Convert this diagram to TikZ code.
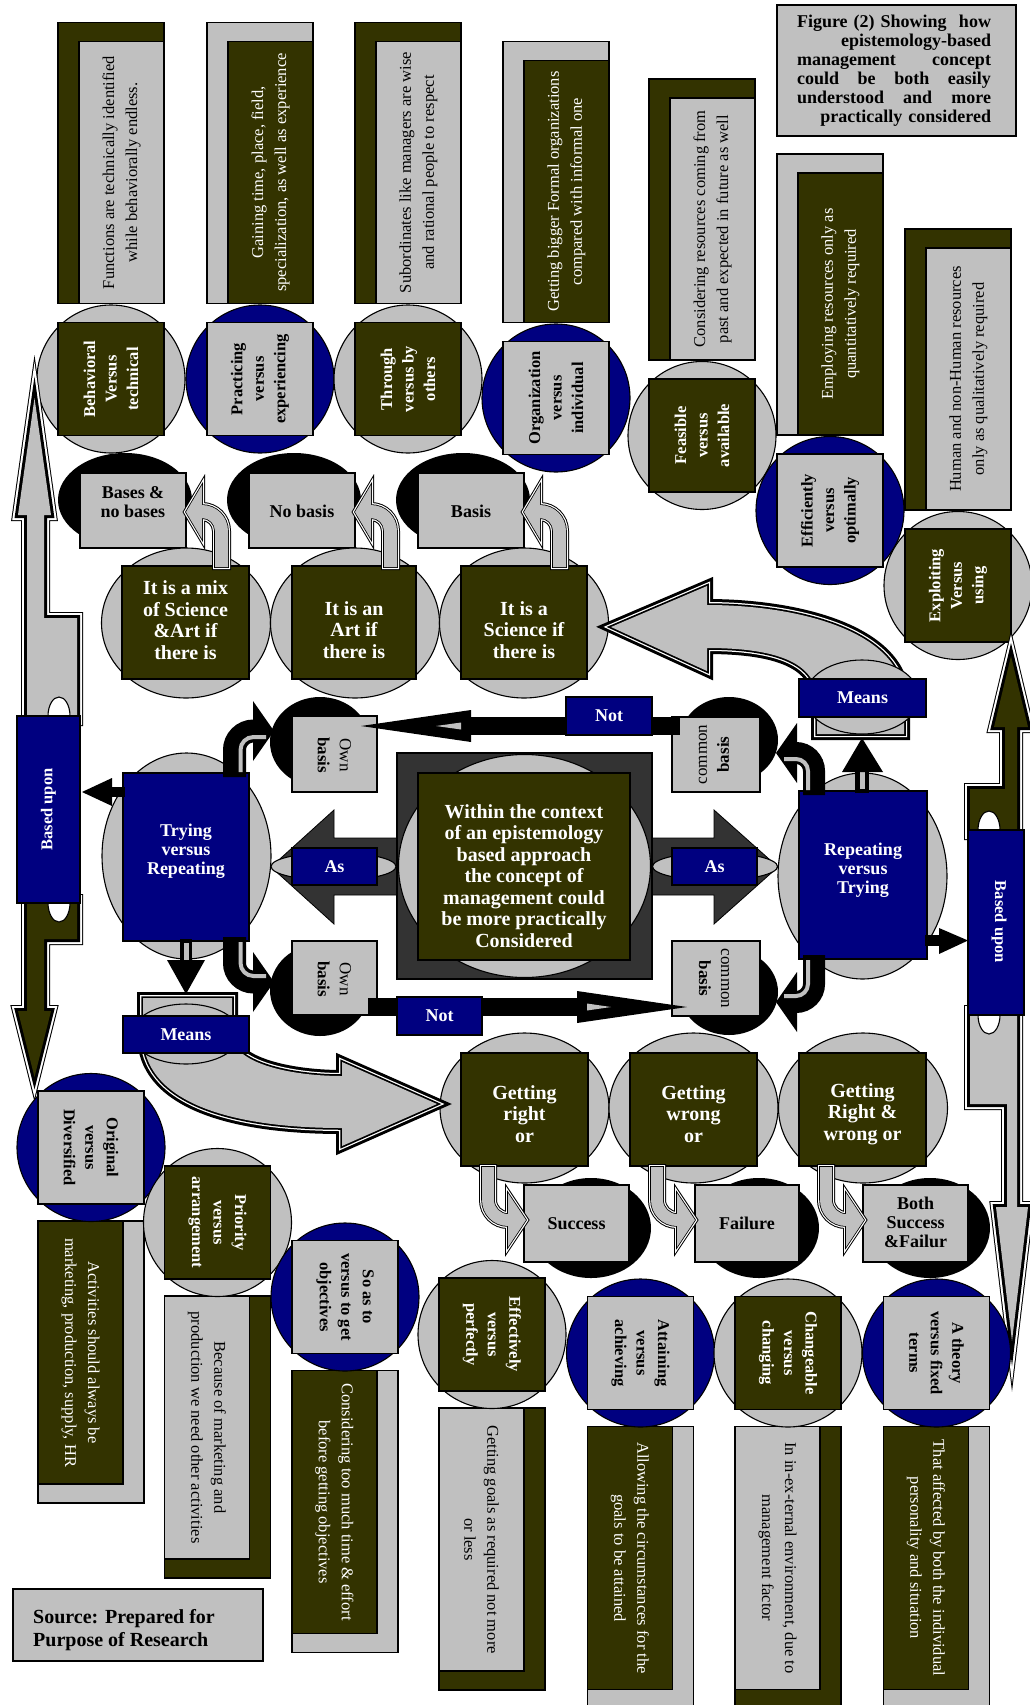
\documentclass[tikz,border=0pt]{standalone}
\usepackage{fontspec}
\setmainfont{Liberation Serif}
\usetikzlibrary{shapes.geometric}
\definecolor{olv}{HTML}{333300}
\definecolor{nvy}{HTML}{000080}
\definecolor{lgr}{HTML}{C0C0C0}
\definecolor{dgr}{HTML}{333333}
\newcommand\fsq{\fontsize{16.5}{21.5}\selectfont\bfseries}
\newcommand\fdesc{\fontsize{16.5}{23}\selectfont}
\newcommand\fbig{\fontsize{20}{21.5}\selectfont\bfseries}
\newcommand\flab{\fontsize{18}{19}\selectfont\bfseries}
\newcommand\ftitle{\fontsize{18}{19}\selectfont\bfseries}
\newcommand\fsrc{\fontsize{20}{23}\selectfont\bfseries}
\newcommand\fbas{\fontsize{17}{22}\selectfont}
\newcommand\fbu{\fontsize{16.5}{20}\selectfont\bfseries}
\tikzset{
  bx/.style={draw=black, line width=1.1pt, inner sep=0pt, align=center},
  dk/.style={bx, fill=olv, text=white},
  lt/.style={bx, fill=lgr, text=black},
  nv/.style={bx, fill=nvy, text=white},
  circ/.style={circle, draw=black, line width=1.1pt, inner sep=0pt, minimum size=148pt},
  ell/.style={ellipse, draw=black, line width=1.1pt, inner sep=0pt},
  blk/.style={ellipse, fill=black, inner sep=0pt},
  txt/.style={inner sep=0pt, align=center},
  bigtri/.style={line join=round, preaction={draw=black,line width=12pt}, preaction={draw=white,line width=10pt}, preaction={draw=black,line width=6pt}},
  curtri/.style={line join=round, preaction={draw=black,line width=12pt}, preaction={draw=white,line width=6pt}, preaction={draw=black,line width=3.5pt}},
  smtri/.style={line join=round, preaction={draw=black,line width=6pt}, preaction={draw=white,line width=4pt}, preaction={draw=black,line width=1.6pt}},
  band/.style={line width=23pt, black},
  stripe/.style={line width=4pt, lgr},
}
\newcommand\upitem[9]{%
 \node[#7, minimum width=106pt, minimum height=281pt] (#1b) at (#2,#3-216) {};
 \node[#8, rotate=90, minimum width=262pt, minimum height=85pt, font=\fdesc] (#1f) at (#2+10.5,#3-206.5) {#9};
 \node[circ, fill=#4] (#1c) at (#2,#3) {};
 \node[#5, rotate=90, minimum width=113pt, minimum height=106pt, font=\fsq] (#1s) at (#2,#3) {#6};
}
\newcommand\dnitem[9]{%
 \node[#7, minimum width=106pt, minimum height=282pt] (#1b) at (#2,#3+214.5) {};
 \node[#8, rotate=-90, minimum width=263pt, minimum height=85pt, font=\fdesc] (#1f) at (#2-10.5,#3+205) {#9};
 \node[circ, fill=#4] (#1c) at (#2,#3) {};
 \node[#5, rotate=-90, minimum width=113pt, minimum height=106pt, font=\fsq] (#1s) at (#2,#3) {#6};
}
\begin{document}
\begin{tikzpicture}[x=1pt,y=-1pt]
\fill[white] (0,0) rectangle (1029,1705);
\useasboundingbox (0,0) rectangle (1029,1705);

% ---------- upper row ----------
\upitem{ua}{111}{379}{lgr}{dk}{Behavioral\\Versus\\technical}{dk}{lt}{Functions are technically identified\\while behaviorally endless.}
\upitem{ub}{260}{379}{nvy}{lt}{Practicing\\versus\\experiencing}{lt}{dk}{Gaining time, place, field,\\specialization, as well as experience}
\upitem{uc}{408}{379}{lgr}{dk}{Through\\versus by\\others}{dk}{lt}{Subordinates like managers are wise\\and rational people to respect}
\upitem{ud}{556}{398}{nvy}{lt}{Organization\\versus\\individual}{lt}{dk}{Getting bigger Formal organizations\\compared with informal one}
\upitem{ue}{702}{435.5}{lgr}{dk}{Feasible\\versus\\available}{dk}{lt}{Considering resources coming from\\past and expected in future as well}
\upitem{uf}{830}{510.5}{nvy}{lt}{Efficiently\\versus\\optimally}{lt}{dk}{Employing resources only as\\quantitatively required}
\upitem{ug}{958}{585.5}{lgr}{dk}{Exploiting\\Versus\\using}{dk}{lt}{Human and non-Human resources\\only as qualitatively required}

% title
\node[lt, minimum width=239pt, minimum height=131pt] (title) at (896.5,70.5) {};
\node[txt, font=\ftitle, text width=194pt, align=right] (titt) at (894,71) {\makebox[194pt]{Figure (2) Showing\hfill how}\\epistemology-based\\\makebox[194pt]{management\hfill concept}\\\makebox[194pt]{could\hfill be\hfill both\hfill easily}\\\makebox[194pt]{understood\hfill and\hfill more}\\practically considered};

% ---------- bases row ----------
\node[blk, minimum width=134pt, minimum height=94pt] (ka) at (125,500) {};
\node[lt, minimum width=106pt, minimum height=75pt] (baa) at (133,510.5) {};
\node[txt, font=\flab] (baat) at (133,502) {Bases \&\\no bases};
\node[blk, minimum width=134pt, minimum height=94pt] (kb) at (294,500) {};
\node[lt, minimum width=106pt, minimum height=75pt] (bab) at (302,510.5) {};
\node[txt, font=\flab] (babt) at (302,511) {No basis};
\node[blk, minimum width=134pt, minimum height=94pt] (kc) at (463,500) {};
\node[lt, minimum width=106pt, minimum height=75pt] (bac) at (471,510.5) {};
\node[txt, font=\flab] (bact) at (471,511) {Basis};

% ---------- it-is row ----------
\node[ell, fill=lgr, minimum width=169pt, minimum height=150pt] (iea) at (186,623) {};
\node[dk, minimum width=127pt, minimum height=113pt] (isa) at (185.5,622.5) {};
\node[txt, font=\fbig, text=white] (isat) at (185.5,620) {It is a mix\\of Science\\\&Art if\\there is};
\node[ell, fill=lgr, minimum width=169pt, minimum height=150pt] (ieb) at (355,623) {};
\node[dk, minimum width=124pt, minimum height=113pt] (isb) at (354,622.5) {};
\node[txt, font=\fbig, text=white] (isbt) at (354,630) {It is an\\Art if\\there is};
\node[ell, fill=lgr, minimum width=169pt, minimum height=150pt] (iec) at (524,623) {};
\node[dk, minimum width=126pt, minimum height=113pt] (isc) at (524,622.5) {};
\node[txt, font=\fbig, text=white] (isct) at (524,630) {It is a\\Science if\\there is};

\foreach \s in {0,169,338}{
 \path[smtri, fill=lgr, shift={(\s,0)}] (215,567) -- (215,531) .. controls (215,523.8) and (209.2,518) .. (202,518) -- (202,539) -- (186,512) -- (202,485) -- (202,505) .. controls (216.4,505) and (228,516.6) .. (228,531) -- (228,567) -- cycle;
}

% ---------- based upon arrows ----------
\path[bigtri, fill=lgr] (34.5,398) -- (51,515) -- (44,515) -- (44,618) -- (77,618) -- (77,720) -- (27,720) -- (27,515) -- (18,515) -- cycle;
\path[bigtri, fill=olv] (27,900) -- (77,900) -- (77,939) -- (44,939) -- (44,1011) -- (51,1011) -- (34.5,1077) -- (18,1011) -- (27,1011) -- cycle;
\path[bigtri, fill=olv] (1011,656) -- (1028,727) -- (1017,727) -- (1017,834) -- (970,834) -- (970,789) -- (1005,789) -- (1005,727) -- (994,727) -- cycle;
\path[bigtri, fill=lgr] (970,1011) -- (1017,1011) -- (1017,1207) -- (1028,1207) -- (1012,1341) -- (996,1207) -- (1007,1207) -- (1007,1104) -- (970,1104) -- cycle;
\node[ell, fill=white, minimum width=22pt, minimum height=38pt] (nta) at (59,716) {};
\node[ell, fill=white, minimum width=22pt, minimum height=38pt] (ntb) at (59,903) {};
\node[ell, fill=white, minimum width=22pt, minimum height=38pt] (ntc) at (989,830) {};
\node[ell, fill=white, minimum width=22pt, minimum height=38pt] (ntd) at (989,1015) {};
\node[nv, minimum width=63pt, minimum height=187pt] (bul) at (48.5,809.5) {};
\node[txt, font=\fbu, text=white, rotate=90] (bult) at (48.5,809.5) {Based upon};
\node[nv, minimum width=56pt, minimum height=185pt] (bur) at (996,922.5) {};
\node[txt, font=\fbu, text=white, rotate=-90] (burt) at (999,922) {Based upon};

% ---------- centre ----------
\filldraw[fill=dgr, draw=black, line width=0.8pt] (400,838) -- (334,838) -- (334,810) -- (271,867) -- (334,924) -- (334,895) -- (400,895) -- cycle;
\filldraw[fill=dgr, draw=black, line width=0.8pt] (650,838) -- (714,838) -- (714,810) -- (778,867) -- (714,924) -- (714,895) -- (650,895) -- cycle;
\node[bx, fill=dgr, minimum width=255pt, minimum height=226pt] (cbg) at (524.5,866) {};
\node[ell, fill=lgr, minimum width=252pt, minimum height=223pt] (cel) at (524.5,866) {};
\node[dk, minimum width=212pt, minimum height=187pt] (csq) at (524,866.5) {};
\node[txt, font=\fbig, text=white] (ctx) at (524,876) {Within the context\\of an epistemology\\based approach\\the concept of\\management could\\be more practically\\Considered};
\node[ell, fill=lgr, minimum width=125pt, minimum height=28pt] (lensa) at (333.5,866.5) {};
\node[nv, minimum width=85pt, minimum height=37pt, font=\flab] (asa) at (334.5,866.5) {As};
\node[ell, fill=lgr, minimum width=125pt, minimum height=28pt] (lensb) at (715,866.5) {};
\node[nv, minimum width=85pt, minimum height=37pt, font=\flab] (asb) at (714.5,866.5) {As};

% own / common basis
\node[blk, minimum width=100pt, minimum height=90pt] (oka) at (320,742) {};
\node[lt, minimum width=85pt, minimum height=76pt] (oba) at (334.5,754) {};
\node[txt, font=\fbas, rotate=-90] (obat) at (334.5,755) {Own\\\textbf{basis}};
\node[blk, minimum width=100pt, minimum height=92pt] (okb) at (320,990) {};
\node[lt, minimum width=85pt, minimum height=74pt] (obb) at (334.5,978) {};
\node[txt, font=\fbas, rotate=-90] (obbt) at (334.5,979) {Own\\\textbf{basis}};
\node[blk, minimum width=98pt, minimum height=86pt] (cka) at (729,740) {};
\node[lt, minimum width=88pt, minimum height=75pt] (cba) at (716,754.5) {};
\node[txt, font=\fbas, rotate=90] (cbat) at (714,754.5) {common\\\textbf{basis}};
\node[blk, minimum width=98pt, minimum height=86pt] (ckb) at (729,992) {};
\node[lt, minimum width=88pt, minimum height=75pt] (cbb) at (716,978.5) {};
\node[txt, font=\fbas, rotate=-90] (cbbt) at (714,978.5) {common\\\textbf{basis}};

% Not arrows
\fill (471,717) rectangle (680,735);
\fill (471,710) -- (361,726) -- (471,742) -- cycle;
\fill[lgr] (461,722.5) -- (436,726) -- (461,729.5) -- cycle;
\node[nv, minimum width=86pt, minimum height=38pt, font=\flab] (nta1) at (609,716) {Not};
\fill (368,998) rectangle (577,1016);
\fill (577,991) -- (687,1007) -- (577,1023) -- cycle;
\fill[lgr] (587,1003.5) -- (611,1007) -- (587,1010.5) -- cycle;
\node[nv, minimum width=85pt, minimum height=38pt, font=\flab] (nta2) at (439.5,1016) {Not};

% Trying / Repeating
\node[ell, fill=lgr, minimum width=169pt, minimum height=206pt] (tre) at (186.5,856) {};
\node[nv, minimum width=126pt, minimum height=168pt] (trr) at (186,857) {};
\node[txt, font=\flab, text=white] (trt) at (186,851) {Trying\\versus\\Repeating};
\node[ell, fill=lgr, minimum width=169pt, minimum height=206pt] (rpe) at (862.5,876) {};
\node[nv, minimum width=128pt, minimum height=168pt] (rpr) at (863,875) {};
\node[txt, font=\flab, text=white] (rpt) at (863,870) {Repeating\\versus\\Trying};

% black U arrows
\draw[band] (234.5,777) -- (234.5,750) .. controls (234.5,739.5) and (243,731) .. (253.5,731) -- (258,731);
\fill (253,701) -- (274,731) -- (253,761) -- cycle;
\draw[stripe] (240.5,772) -- (240.5,750) .. controls (240.5,742.8) and (246.3,737) .. (253.5,737) -- (266,737);
\draw[band] (234.5,937) -- (234.5,963) .. controls (234.5,973.5) and (243,982) .. (253.5,982) -- (258,982);
\fill (253,952) -- (274,982) -- (253,1012) -- cycle;
\draw[stripe] (240.5,942) -- (240.5,963) .. controls (240.5,970.2) and (246.3,976) .. (253.5,976) -- (266,976);
\draw[band, line width=22pt] (814,795) -- (814,771) .. controls (814,761.1) and (805.9,753) .. (796,753) -- (792,753);
\fill (797,723) -- (776,753) -- (797,783) -- cycle;
\draw[stripe] (808,790) -- (808,771) .. controls (808,764.4) and (802.6,759) .. (796,759) -- (784,759);
\draw[band, line width=22pt] (814,955) -- (814,984) .. controls (814,993.9) and (805.9,1002) .. (796,1002) -- (792,1002);
\fill (797,972) -- (776,1002) -- (797,1032) -- cycle;
\draw[stripe] (808,960) -- (808,984) .. controls (808,990.6) and (802.6,996) .. (796,996) -- (784,996);

% small arrows to Based upon
\fill (110,787) rectangle (125,797);
\fill (112,778) -- (82,792) -- (112,806) -- cycle;
\fill (925,935) rectangle (941,946);
\fill (939,928) -- (968,940.5) -- (939,954) -- cycle;

% ---------- getting row ----------
\node[blk, minimum width=120pt, minimum height=100pt] (kga) at (591,1228) {};
\node[lt, minimum width=105pt, minimum height=77pt] (sca) at (576.5,1223.5) {};
\node[txt, font=\flab] (scat) at (576.5,1224) {Success};
\node[blk, minimum width=120pt, minimum height=100pt] (kgb) at (759,1228) {};
\node[lt, minimum width=104pt, minimum height=77pt] (scb) at (747,1223.5) {};
\node[txt, font=\flab] (scbt) at (747,1223) {Failure};
\node[blk, minimum width=120pt, minimum height=100pt] (kgc) at (930,1228) {};
\node[lt, minimum width=105pt, minimum height=77pt] (scc) at (915.5,1223.5) {};
\node[txt, font=\flab] (scct) at (915.5,1222) {Both\\Success\\\&Failur};

\node[ell, fill=lgr, minimum width=169pt, minimum height=150pt] (gea) at (524.5,1108) {};
\node[dk, minimum width=127pt, minimum height=113pt] (gsa) at (524.5,1109.5) {};
\node[txt, font=\fbig, text=white] (gsat) at (524.5,1114) {Getting\\right\\or};
\node[ell, fill=lgr, minimum width=169pt, minimum height=150pt] (geb) at (693.5,1108) {};
\node[dk, minimum width=127pt, minimum height=113pt] (gsb) at (693.5,1109.5) {};
\node[txt, font=\fbig, text=white] (gsbt) at (693.5,1114) {Getting\\wrong\\or};
\node[ell, fill=lgr, minimum width=169pt, minimum height=150pt] (gec) at (863,1108) {};
\node[dk, minimum width=127pt, minimum height=113pt] (gsc) at (862.5,1109.5) {};
\node[txt, font=\fbig, text=white] (gsct) at (862.5,1114) {Getting\\Right \&\\wrong or};

\foreach \s in {0,169,338}{
 \path[smtri, fill=lgr, shift={(\s,0)}] (482,1167) -- (482,1200) .. controls (482,1214.4) and (493.6,1226) .. (508,1226) -- (508,1247) -- (526,1220) -- (508,1193) -- (508,1214) .. controls (500.3,1214) and (494,1207.7) .. (494,1200) -- (494,1167) -- cycle;
}

% ---------- curved arrows and Means ----------
\path[curtri, fill=lgr] (904,734) -- (904,700) .. controls (904,632) and (800,605) .. (707,605) -- (707,586) -- (611,627) -- (707,671) -- (707,648) .. controls (770,648) and (817,660) .. (817,700) -- (817,734) -- cycle;
\path[curtri, fill=lgr] (143,998) -- (232,998) -- (232,1035) .. controls (232,1063) and (290,1076) .. (342,1076) -- (342,1062) -- (437,1104) -- (342,1146) -- (342,1128) .. controls (225,1128) and (143,1100) .. (143,1035) -- cycle;

\node[ell, fill=lgr, minimum width=114pt, minimum height=74pt] (mue) at (862,697) {};
\node[nv, minimum width=127pt, minimum height=38pt, font=\flab] (mu) at (862.5,698) {Means};
\node[ell, fill=lgr, minimum width=108pt, minimum height=60pt] (mle) at (186,1034) {};
\node[nv, minimum width=126pt, minimum height=37pt, font=\flab] (ml) at (186,1034.5) {Means};

\draw[line width=12pt] (186,939) -- (186,962);
\draw[lgr, line width=5pt] (186,943) -- (186,961);
\fill (167,960) -- (205,960) -- (186,994) -- cycle;
\draw[line width=14pt] (862,793) -- (862,770);
\draw[lgr, line width=5pt] (862,789) -- (862,771);
\fill (842,772) -- (883,772) -- (862,738) -- cycle;

% ---------- lower row ----------
\dnitem{da}{91}{1147.5}{nvy}{lt}{Original\\versus\\Diversified}{lt}{dk}{Activities should always be\\marketing, production, supply, HR}
\dnitem{db}{217.5}{1222.5}{lgr}{dk}{Priority\\versus\\arrangement}{dk}{lt}{Because of marketing and\\production we need other activities}
\dnitem{dc}{345}{1297}{nvy}{lt}{So as to\\versus to get\\objectives}{lt}{dk}{Considering too much time \& effort\\before getting objectives}
\dnitem{dd}{492}{1334.5}{lgr}{dk}{Effectively\\versus\\perfectly}{dk}{lt}{Getting goals as required not more\\or less}
\dnitem{de}{640.5}{1353}{nvy}{lt}{Attaining\\versus\\achieving}{lt}{dk}{Allowing the circumstances for the\\goals to be attained}
\dnitem{df}{788}{1353}{lgr}{dk}{Changeable\\versus\\changing}{dk}{lt}{In in-ex-ternal environment, due to\\management factor}
\dnitem{dg}{936.5}{1353}{nvy}{lt}{A theory\\versus fixed\\terms}{lt}{dk}{That affected by both the individual\\personality and situation}

% source
\node[lt, minimum width=250pt, minimum height=72pt] (src) at (138,1625) {};
\node[txt, font=\fsrc, align=left, anchor=west] (srct) at (33,1630) {Source: Prepared for\\Purpose of Research};
\end{tikzpicture}
\end{document}
